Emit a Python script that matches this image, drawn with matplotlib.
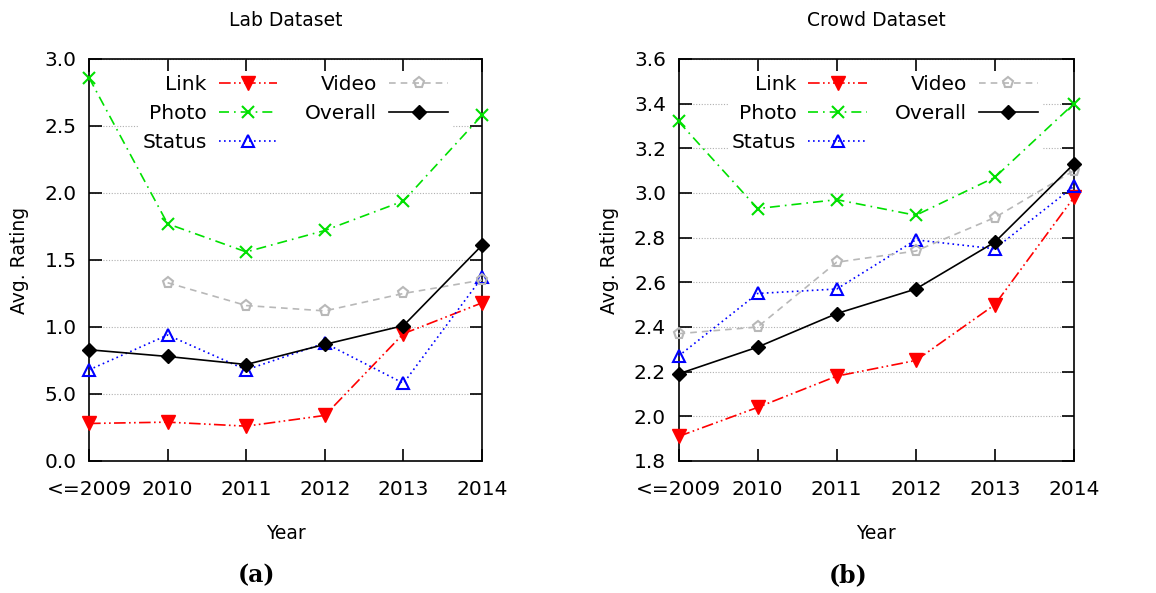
import numpy as np
import matplotlib
matplotlib.use("Agg")
import matplotlib.pyplot as plt

years = ["<=2009", "2010", "2011", "2012", "2013", "2014"]

# Lab dataset (Video has no <=2009 point)
lab_link = [0.28, 0.29, 0.26, 0.34, 0.95, 1.18]
lab_photo = [2.86, 1.77, 1.56, 1.72, 1.94, 2.58]
lab_status = [0.68, 0.94, 0.68, 0.88, 0.58, 1.37]
lab_video = [np.nan, 1.33, 1.16, 1.12, 1.25, 1.35]
lab_overall = [0.83, 0.78, 0.72, 0.87, 1.01, 1.61]
lab_yticks = [0.0, 0.5, 1.0, 1.5, 2.0, 2.5, 3.0]
lab_yticklabels = ["0.0", "5.0", "1.0", "1.5", "2.0", "2.5", "3.0"]

# Crowd dataset
crowd_link = [1.91, 2.04, 2.18, 2.25, 2.50, 2.98]
crowd_photo = [3.32, 2.93, 2.97, 2.90, 3.07, 3.40]
crowd_status = [2.27, 2.55, 2.57, 2.79, 2.75, 3.03]
crowd_video = [2.37, 2.40, 2.69, 2.74, 2.89, 3.10]
crowd_overall = [2.19, 2.31, 2.46, 2.57, 2.78, 3.13]
crowd_yticks = [1.8, 2.0, 2.2, 2.4, 2.6, 2.8, 3.0, 3.2, 3.4, 3.6]
crowd_yticklabels = ["%.1f" % v for v in crowd_yticks]

plt.rcParams['font.family'] = ['DejaVu Sans']

styles = {
    "Link": dict(color="#ff0000", ls=(0, (7, 2, 1, 2, 1, 2)), marker="v", ms=10,
                 mfc="#ff0000", mec="#ff0000"),
    "Photo": dict(color="#00e000", ls=(0, (6, 3, 1, 3)), marker="x", ms=9,
                  mew=1.5),
    "Status": dict(color="#0000ff", ls=(0, (1, 2)), marker="^", ms=9,
                   mfc="none", mec="#0000ff", mew=1.5),
    "Video": dict(color="#b8b8b8", ls=(0, (4, 3)), marker="p", ms=8,
                  mfc="none", mec="#b8b8b8", mew=1.5),
    "Overall": dict(color="black", ls="-", marker="D", ms=7.5, mfc="black",
                    mec="black"),
}


def draw(ax, series, title, yticks, yticklabels):
    x = np.arange(len(years))
    for name, vals in series:
        ax.plot(x, vals, lw=1.2, label=name, clip_on=False, zorder=3,
                **styles[name])
    ax.set_xlim(0, len(years) - 1)
    ax.set_ylim(yticks[0], yticks[-1])
    ax.set_xticks(x)
    ax.set_xticklabels(years)
    ax.set_yticks(yticks)
    ax.set_yticklabels(yticklabels)
    ax.tick_params(direction="in", length=9, width=1.2, top=True, right=True,
                   labelsize=14.5)
    ax.tick_params(axis="x", pad=14)
    ax.tick_params(axis="y", pad=9)
    ax.yaxis.grid(True, color="#b0b0b0", ls=(0, (1, 1.5)), lw=0.8)
    ax.set_axisbelow(True)
    for s in ax.spines.values():
        s.set_linewidth(1.2)
    ax.set_title(title, fontsize=13.5, pad=24)
    ax.set_xlabel("Year", fontsize=13.5, labelpad=18)
    ax.set_ylabel("Avg. Rating", fontsize=13.5, labelpad=11)
    leg = ax.legend(ncol=2, loc="upper left", bbox_to_anchor=(0.125, 0.97),
                    markerfirst=False, frameon=True, fontsize=14.5,
                    handlelength=2.9, handletextpad=0.6, columnspacing=1.4,
                    labelspacing=0.5, borderpad=0.2, borderaxespad=0)
    leg.get_frame().set_facecolor("white")
    leg.get_frame().set_edgecolor("none")
    leg.get_frame().set_alpha(1)
    leg.set_zorder(2)


fig = plt.figure(figsize=(11.56, 5.93), dpi=100)
ax1 = fig.add_axes([0.077, 0.2226, 0.340, 0.678])
ax2 = fig.add_axes([0.587, 0.2226, 0.342, 0.678])

draw(ax1, [("Link", lab_link), ("Photo", lab_photo), ("Status", lab_status),
           ("Video", lab_video), ("Overall", lab_overall)],
     "Lab Dataset", lab_yticks, lab_yticklabels)
draw(ax2, [("Link", crowd_link), ("Photo", crowd_photo), ("Status", crowd_status),
           ("Video", crowd_video), ("Overall", crowd_overall)],
     "Crowd Dataset", crowd_yticks, crowd_yticklabels)

fig.text(257 / 1156, 1 - 575 / 593, "(a)", ha="center", va="center",
         fontsize=17, fontweight="bold", family="DejaVu Serif")
fig.text(848 / 1156, 1 - 575 / 593, "(b)", ha="center", va="center",
         fontsize=17, fontweight="bold", family="DejaVu Serif")

fig.savefig("out.png", dpi=100)
